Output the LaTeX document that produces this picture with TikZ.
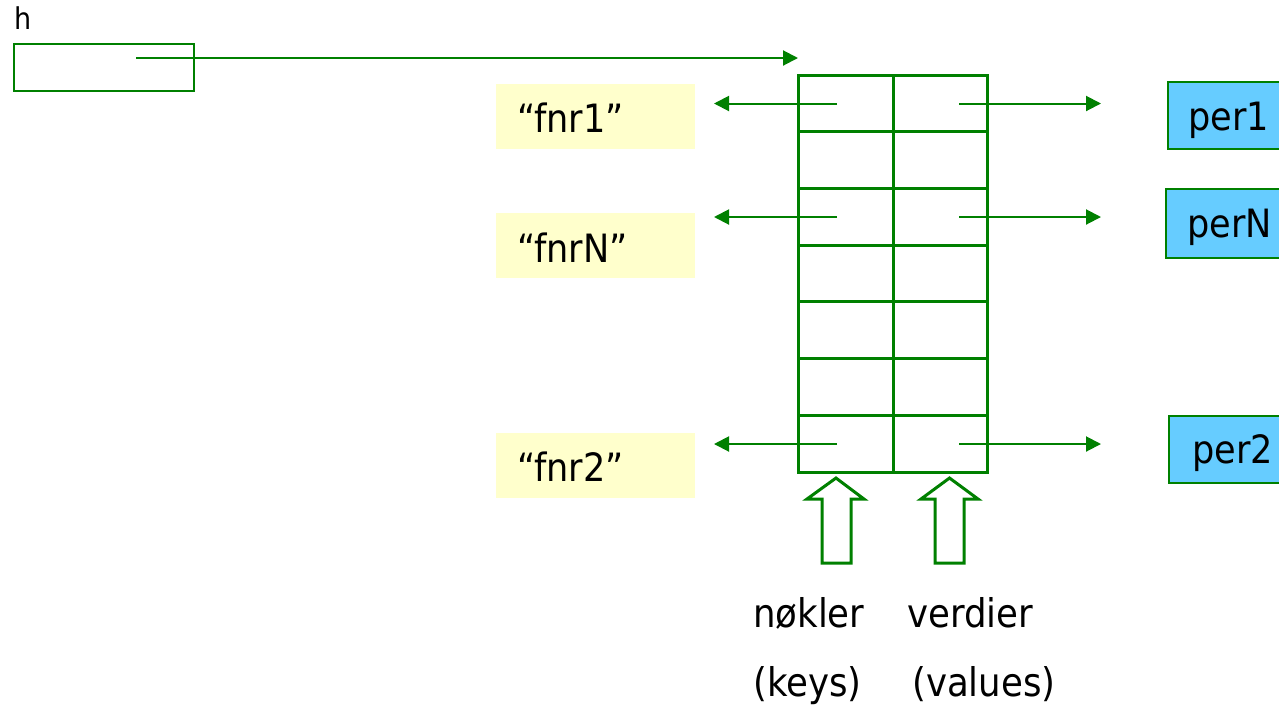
\documentclass[tikz,border=0pt]{standalone}
\usepackage{fontspec}
\setmainfont{DejaVu Sans Condensed}
\usetikzlibrary{arrows.meta}
\definecolor{linegreen}{RGB}{0,128,0}
\definecolor{keyfill}{RGB}{255,255,204}
\definecolor{valfill}{RGB}{102,204,255}
\tikzset{
  px/.style={x=1pt,y=-1pt},
  ptr/.style={draw=linegreen,line width=2pt,-{Triangle[length=15pt,width=15pt]}},
  grid line/.style={draw=linegreen,line width=3pt},
  keybox/.style={fill=keyfill,draw=none,minimum width=199pt,minimum height=65pt,inner sep=0pt},
  valbox/.style={fill=valfill,draw=linegreen,line width=2pt,minimum width=122pt,minimum height=67pt,inner sep=0pt},
  bigtext/.style={font=\fontsize{39}{39}\selectfont,inner sep=0pt,anchor=base west},
  captext/.style={font=\fontsize{39.5}{39.5}\selectfont,inner sep=0pt,anchor=base west},
  hollow arrow/.style={draw=linegreen,line width=3pt,fill=white,line join=miter},
}
\begin{document}
\begin{tikzpicture}[px]
\useasboundingbox (0,0) rectangle (1279,716);
\clip (0,0) rectangle (1279,716);

% variable h holding a reference to the table
\node[font=\fontsize{30}{30}\selectfont,inner sep=0pt,anchor=base west] (hlabel) at (14,29) {h};
\node[draw=linegreen,line width=2pt,minimum width=180pt,minimum height=47pt,inner sep=0pt,anchor=north west] (hbox) at (13,43) {};
\coordinate (hstart) at (136,58);
\coordinate (tabletop) at (798,58);
\draw[ptr] (hstart) -- (tabletop);

% the table: two columns, seven rows
\coordinate (tnw) at (798,75);
\coordinate (tse) at (987,472);
\draw[grid line] (tnw) rectangle (tse);
\draw[grid line] (893,75) -- (893,472);
\foreach \y in {131.7,188.3,245,301.7,358.3,415}
  \draw[grid line] (798,\y) -- (987,\y);

% key strings
\node[keybox,anchor=north west] (k1) at (496,84) {};
\node[keybox,anchor=north west] (kN) at (496,213) {};
\node[keybox,anchor=north west] (k2) at (496,433) {};
\node[bigtext] (k1t) at (517,132) {“fnr1”};
\node[bigtext] (kNt) at (517,262) {“fnrN”};
\node[bigtext] (k2t) at (517,481) {“fnr2”};

% value objects
\node[valbox,anchor=north west] (v1) at (1167,81) {};
\node[valbox,anchor=north west,minimum height=69pt] (vN) at (1165,188) {};
\node[valbox,anchor=north west] (v2) at (1168,415) {};
\node[bigtext] (v1t) at (1188,130) {per1};
\node[bigtext] (vNt) at (1187,237) {perN};
\node[bigtext] (v2t) at (1192,463) {per2};

% pointers out of the filled rows
\coordinate (kc1) at (837,103.5);
\coordinate (kcN) at (837,217);
\coordinate (kc2) at (837,444);
\coordinate (vc1) at (959,103.5);
\coordinate (vcN) at (959,217);
\coordinate (vc2) at (959,444);
\coordinate (kt1) at (714,103.5);
\coordinate (ktN) at (714,217);
\coordinate (kt2) at (714,444);
\coordinate (vt1) at (1101,103.5);
\coordinate (vtN) at (1101,217);
\coordinate (vt2) at (1101,444);
\draw[ptr] (kc1) -- (kt1);
\draw[ptr] (kcN) -- (ktN);
\draw[ptr] (kc2) -- (kt2);
\draw[ptr] (vc1) -- (vt1);
\draw[ptr] (vcN) -- (vtN);
\draw[ptr] (vc2) -- (vt2);

% hollow arrows pointing up at the two columns
\draw[hollow arrow] (836,478) -- (864,499) -- (851,499) -- (851,563) -- (822,563) -- (822,499) -- (807,499) -- cycle;
\draw[hollow arrow] (949.5,478) -- (978,499) -- (964,499) -- (964,563) -- (935,563) -- (935,499) -- (921,499) -- cycle;

% column captions
\node[captext] (c1) at (753,627) {nøkler};
\node[captext] (c2) at (907,627) {verdier};
\node[captext] (c3) at (753,696) {(keys)};
\node[captext] (c4) at (912,696) {(values)};
\end{tikzpicture}
\end{document}
